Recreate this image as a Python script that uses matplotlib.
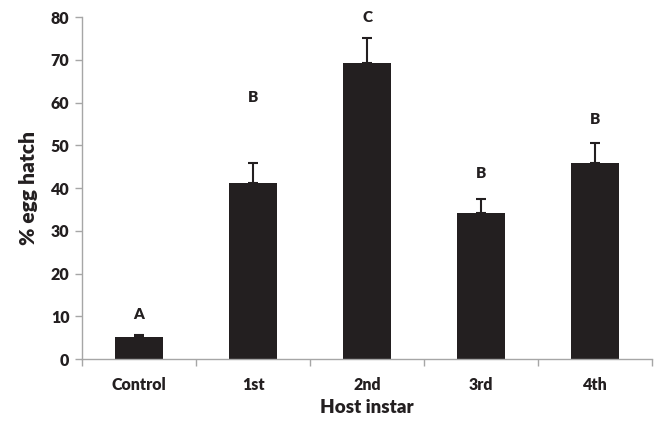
import numpy as np
import matplotlib
matplotlib.use('Agg')
import matplotlib.pyplot as plt

plt.rcParams['font.family'] = ['Lato', 'DejaVu Sans']
plt.rcParams['font.weight'] = 'bold'

# 数据
categories = ['Control', '1st', '2nd', '3rd', '4th']
hatch = [5.1, 41.2, 69.2, 34.2, 46.0]
err = [0.5, 4.6, 6.0, 3.3, 4.6]
letters = ['A', 'B', 'C', 'B', 'B']
letter_y = [10.5, 61.3, 80.0, 43.5, 56.0]

txt = '#231f20'
axis_grey = '#a6a6a6'

fig = plt.figure(figsize=(6.56, 4.21), dpi=100)
ax = fig.add_axes([0.125, 0.147, 0.869, 0.812])

x = np.arange(len(categories))
ax.bar(x, hatch, width=0.42, color=txt, zorder=2)
ax.errorbar(x, hatch, yerr=[np.zeros(len(err)), err], fmt='none',
            ecolor=txt, elinewidth=1.5, capsize=3.5, capthick=1.5, zorder=3)

for xi, lab, ly in zip(x, letters, letter_y):
    ax.text(xi, ly, lab, ha='center', va='center', fontsize=11,
            fontweight='heavy', color=txt)

ax.set_xlim(-0.5, len(categories) - 0.5)
ax.set_ylim(0, 80)
ax.set_yticks(np.arange(0, 81, 10))
ax.set_xticks(x)
ax.set_xticklabels(categories)
ax.set_xticks(np.arange(-0.5, len(categories)), minor=True)
ax.tick_params(axis='x', which='major', length=0, pad=13, labelsize=11.5, labelcolor=txt)
ax.tick_params(axis='x', which='minor', length=5, width=1, color=axis_grey)
ax.tick_params(axis='y', length=5, width=1, color=axis_grey, labelsize=11.5, labelcolor=txt, pad=4)
for lab in ax.get_xticklabels() + ax.get_yticklabels():
    lab.set_fontweight('heavy')

for s in ['top', 'right']:
    ax.spines[s].set_visible(False)
for s in ['left', 'bottom']:
    ax.spines[s].set_color(axis_grey)
    ax.spines[s].set_linewidth(1)

ax.set_ylabel('% egg hatch', fontsize=15, fontweight='heavy', color=txt, labelpad=9)
ax.set_xlabel('Host instar', fontsize=13.5, fontweight='heavy', color=txt, labelpad=4)

plt.savefig('out.png', dpi=100)
